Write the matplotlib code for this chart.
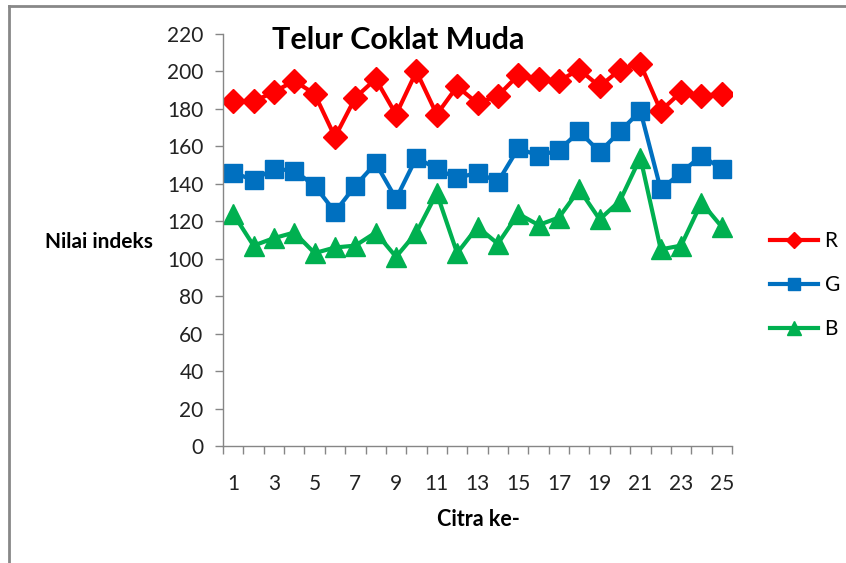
import matplotlib
matplotlib.use("Agg")
import matplotlib.pyplot as plt
from matplotlib.lines import Line2D
import numpy as np

plt.rcParams['font.family'] = ['Lato', 'DejaVu Sans']

citra = list(range(1, 26))
r_vals = [184, 184, 189, 195, 188, 165, 186, 196, 177, 200, 177, 192, 183,
          187, 198, 196, 195, 201, 192, 201, 204, 179, 189, 187, 188]
g_vals = [146, 142, 148, 147, 139, 125, 139, 151, 132, 154, 148, 143, 146,
          141, 159, 155, 158, 168, 157, 168, 179, 137, 146, 155, 148]
b_vals = [124, 107, 111, 114, 103, 106, 107, 114, 101, 114, 135, 103, 117,
          108, 124, 118, 122, 137, 121, 131, 154, 105, 107, 130, 117]
xtick_labels = [str(c) for c in citra[::2]]

W, H = 846, 563
fig = plt.figure(figsize=(W / 100, H / 100), dpi=100)
ax = fig.add_axes([223 / W, 1 - 446 / H, (732 - 223) / W, (446 - 34) / H])

ax.plot(citra, r_vals, color='#FF0000', lw=3, marker='D', ms=12, label='R')
ax.plot(citra, g_vals, color='#0070C0', lw=3, marker='s', ms=13, label='G')
ax.plot(citra, b_vals, color='#00B050', lw=3, marker='^', ms=14, label='B')

ax.set_xlim(0.5, 25.5)
ax.set_ylim(0, 220)
ax.set_yticks(np.arange(0, 221, 20))
ax.set_xticks(citra[::2])
ax.set_xticklabels(xtick_labels)
ax.set_xticks(np.arange(0.5, 26, 1), minor=True)
ax.tick_params(axis='x', which='major', length=0, pad=20, labelsize=15, labelcolor='#222222')
ax.tick_params(axis='x', which='minor', length=6, width=1, color='#868686', direction='out')
ax.tick_params(axis='y', length=6, width=1, color='#868686', labelsize=15, labelcolor='#222222', pad=8)

for s in ['top', 'right']:
    ax.spines[s].set_visible(False)
for s in ['left', 'bottom']:
    ax.spines[s].set_color('#868686')
    ax.spines[s].set_linewidth(1)

fig.text(398 / W, 1 - 40 / H, 'Telur Coklat Muda', ha='center', va='center',
         fontsize=22, fontweight='bold')
fig.text(99 / W, 1 - 242 / H, 'Nilai indeks', ha='center', va='center',
         fontsize=15, fontweight='bold')
fig.text(478 / W, 1 - 520 / H, 'Citra ke-', ha='center', va='center',
         fontsize=15.5, fontweight='bold')

fig.legend(loc='center left', bbox_to_anchor=(760 / W, 1 - 285 / H), frameon=False,
           fontsize=15, markerscale=0.7, handlelength=2.3, labelspacing=1.15,
           handletextpad=0.3, borderpad=0)

# outer chart border (only top and left visible in the crop)
fig.add_artist(Line2D([9 / W, 9 / W], [0, 1 - 6 / H], color='#888888', lw=2,
                      transform=fig.transFigure))
fig.add_artist(Line2D([9 / W, 1], [1 - 6 / H, 1 - 6 / H], color='#888888', lw=2,
                      transform=fig.transFigure))

fig.savefig('out.png', dpi=100)
